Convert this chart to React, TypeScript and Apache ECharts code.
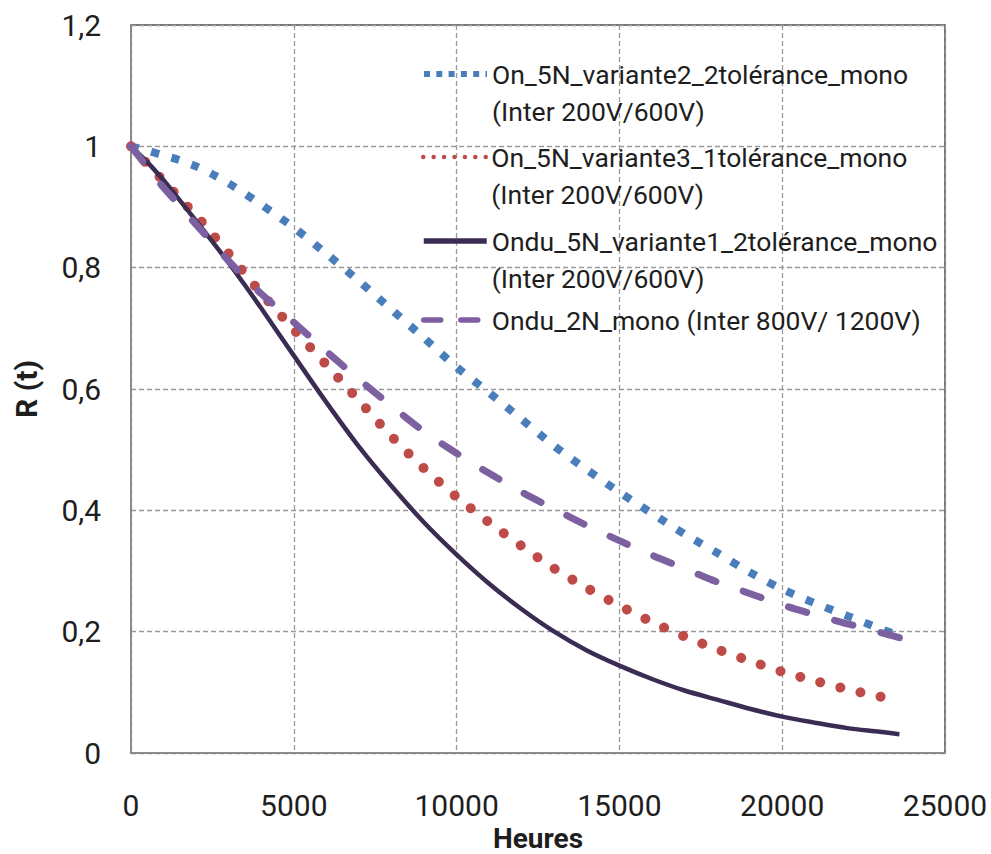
import { useEffect, useRef } from "react";
import * as echarts from "echarts";

const hours = [0, 500, 1000, 1500, 2000, 2500, 3000, 3500, 4000, 5000, 6000, 7000, 8000, 9000, 10000, 11000, 12000, 13000, 14000, 15000, 16000, 17000, 18000, 19000, 20000, 21000, 22000, 23000, 23600];

const variante2Values = [1, 0.993, 0.985, 0.977, 0.967, 0.954, 0.939, 0.922, 0.904, 0.866, 0.823, 0.778, 0.731, 0.684, 0.636, 0.594, 0.55, 0.506, 0.467, 0.43, 0.395, 0.361, 0.33, 0.298, 0.27, 0.247, 0.226, 0.205, 0.193];
const variante3Values = [1, 0.971, 0.943, 0.914, 0.886, 0.855, 0.823, 0.79, 0.758, 0.698, 0.64, 0.581, 0.522, 0.469, 0.422, 0.38, 0.341, 0.304, 0.272, 0.243, 0.216, 0.192, 0.171, 0.152, 0.134, 0.119, 0.105, 0.093, 0.087];
const variante1Values = [1, 0.974, 0.944, 0.911, 0.877, 0.843, 0.808, 0.771, 0.733, 0.655, 0.578, 0.505, 0.44, 0.38, 0.327, 0.279, 0.237, 0.2, 0.169, 0.144, 0.122, 0.103, 0.088, 0.073, 0.06, 0.05, 0.041, 0.035, 0.031];
const mono2NValues = [1, 0.966, 0.932, 0.902, 0.871, 0.841, 0.811, 0.783, 0.757, 0.71, 0.662, 0.616, 0.572, 0.53, 0.494, 0.461, 0.43, 0.402, 0.375, 0.35, 0.326, 0.304, 0.282, 0.263, 0.244, 0.228, 0.213, 0.199, 0.19];

const seriesNames = [
  "On_5N_variante2_2tolérance_mono\n(Inter 200V/600V)",
  "On_5N_variante3_1tolérance_mono\n(Inter 200V/600V)",
  "Ondu_5N_variante1_2tolérance_mono\n(Inter 200V/600V)",
  "Ondu_2N_mono (Inter 800V/ 1200V)",
];

const xAxisTitle = "Heures";
const yAxisTitle = "R (t)";

export default function App() {
  const ref = useRef<HTMLDivElement>(null);
  useEffect(() => {
    if (!ref.current) return;
    const chart = echarts.init(ref.current, undefined, { renderer: "svg" });
    const toPts = (vals: number[]) => hours.map((h, i) => [h, vals[i]]);
    const font = "Roboto";
    const LH = 37;
    const legendBase = (name: string, top: number, lineStyle: any, twoLines: boolean) => ({
      show: true,
      left: 421,
      top,
      padding: 0,
      orient: "vertical",
      itemWidth: 63,
      itemHeight: 14,
      selectedMode: false,
      data: [name],
      formatter: (n: string) => (twoLines ? " \n" + n : n),
      itemStyle: { opacity: 0, borderWidth: 0 },
      lineStyle,
      textStyle: { fontSize: 26.5, fontFamily: font, color: "#1e1e1e", lineHeight: LH },
    });
    chart.setOption({
      animation: false,
      textStyle: { fontFamily: font },
      grid: {
        left: 131,
        top: 25,
        right: 46,
        bottom: 101,
        outerBoundsMode: "none",
        containLabel: false,
        show: true,
        borderColor: "#4a4a4a",
        borderWidth: 1.5,
        backgroundColor: "transparent",
      },
      legend: [
        legendBase(seriesNames[0], 74 - 55.5, { width: 6, type: [6, 6.3], cap: "butt", color: "#4a7ebb" }, true),
        legendBase(seriesNames[1], 157 - 55.5, { width: 4.5, type: [0.01, 10.4], cap: "round", color: "#be4b48" }, true),
        legendBase(seriesNames[2], 241 - 55.5, { width: 5.5, type: "solid", cap: "butt", color: "#3a2c52" }, true),
        legendBase(seriesNames[3], 322 - 20.5, { width: 5.5, type: [17, 20], cap: "round", color: "#7d60a0" }, false),
      ],
      xAxis: {
        type: "value",
        min: 0,
        max: 25000,
        interval: 5000,
        name: xAxisTitle,
        nameLocation: "middle",
        nameGap: 70,
        nameTextStyle: { fontSize: 28, lineHeight: 28, fontWeight: "bold", color: "#1e1e1e", fontFamily: font },
        axisLine: { show: true, lineStyle: { color: "#8a8a8a", width: 2 } },
        axisTick: { show: false },
        axisLabel: { fontSize: 30, color: "#1e1e1e", margin: 37, fontFamily: font, formatter: (v: number) => String(v) },
        splitLine: { show: true, lineStyle: { color: "#9a9a9a", width: 1.3, type: [5, 3] } },
      },
      yAxis: {
        type: "value",
        min: 0,
        max: 1.2,
        interval: 0.2,
        name: yAxisTitle,
        nameLocation: "middle",
        nameRotate: 90,
        nameGap: 90,
        nameTextStyle: { fontSize: 30, fontWeight: "bold", color: "#1e1e1e", fontFamily: font },
        axisLine: { show: true, lineStyle: { color: "#8a8a8a", width: 2 } },
        axisTick: { show: false },
        axisLabel: {
          fontSize: 30,
          color: "#1e1e1e",
          margin: 30,
          fontFamily: font,
          formatter: (v: number) => String(+v.toFixed(1)).replace(".", ","),
        },
        splitLine: { show: true, lineStyle: { color: "#9a9a9a", width: 1.3, type: [5, 3] } },
      },
      series: [
        {
          name: seriesNames[0],
          type: "line",
          data: toPts(variante2Values),
          symbol: "none",
          smooth: 0.3,
          color: "#4a7ebb",
          lineStyle: { color: "#4a7ebb", width: 8, type: [8, 13], cap: "butt" },
        },
        {
          name: seriesNames[1],
          type: "line",
          data: toPts(variante3Values),
          symbol: "none",
          smooth: 0.3,
          color: "#be4b48",
          lineStyle: { color: "#be4b48", width: 10, type: [0.01, 20.7], cap: "round" },
        },
        {
          name: seriesNames[2],
          type: "line",
          data: toPts(variante1Values),
          symbol: "none",
          smooth: 0.3,
          color: "#3a2c52",
          lineStyle: { color: "#3a2c52", width: 4.5, type: "solid" },
        },
        {
          name: seriesNames[3],
          type: "line",
          data: toPts(mono2NValues),
          symbol: "none",
          smooth: 0.3,
          color: "#7d60a0",
          lineStyle: { color: "#7d60a0", width: 7, type: [19, 29], cap: "round" },
        },
      ],
    });
    return () => chart.dispose();
  }, []);
  return (
    <div
      ref={ref}
      style={{ position: "fixed", left: 0, top: 0, width: 991, height: 854, background: "#fff" }}
    />
  );
}
